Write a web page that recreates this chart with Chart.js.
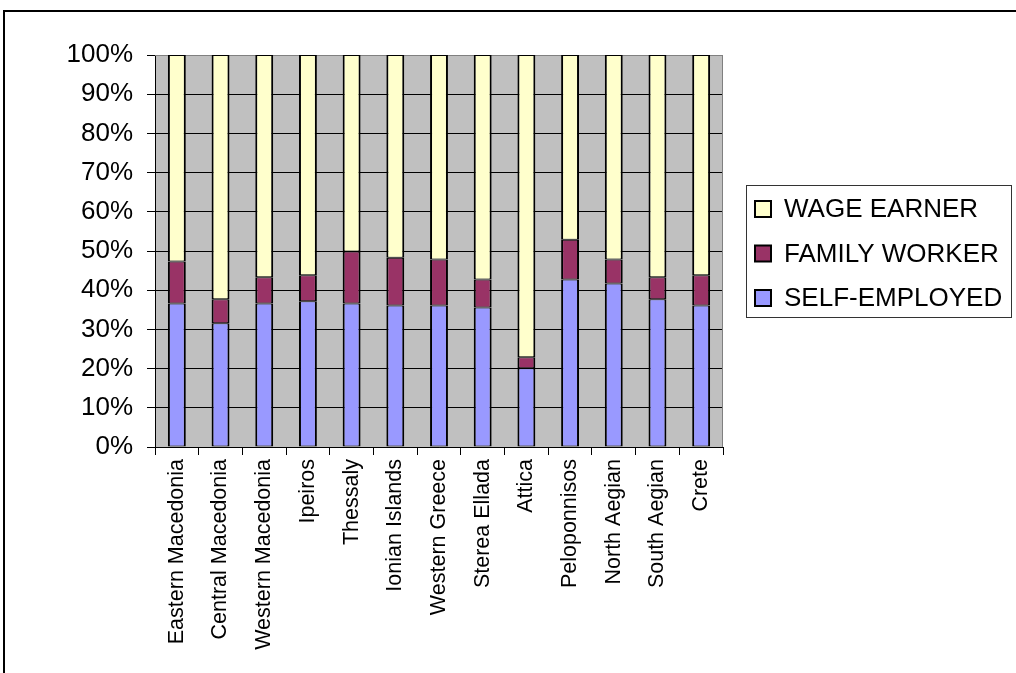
<!DOCTYPE html>
<html lang="en">
<head>
    <meta charset="UTF-8">
    <title>Employment status by region</title>
    <style>
      body { margin: 0; background: #fff; }
    </style>
</head>
<body>
    <canvas id="myChart" width="1016" height="673"></canvas>

    <script src="https://cdn.jsdelivr.net/npm/chart.js"></script>
    <script>
      var regions = ['Eastern Macedonia', 'Central Macedonia', 'Western Macedonia', 'Ipeiros',
                     'Thessaly', 'Ionian Islands', 'Western Greece', 'Sterea Ellada', 'Attica',
                     'Peloponnisos', 'North Aegian', 'South Aegian', 'Crete'];
      var selfEmployed = [36.6, 31.6, 36.6, 37.2, 36.6, 36.1, 36.1, 35.6, 20.1, 42.7, 41.7, 37.7, 36.1];
      var familyWorker = [10.7,  6.1,  6.7,  6.6, 13.3, 12.2, 11.7,  7.1,  2.8, 10.2,  6.1,  5.6,  7.7];
      var wageEarner   = [52.7, 62.3, 56.7, 56.2, 50.1, 51.7, 52.2, 57.3, 77.1, 47.1, 52.2, 56.7, 56.2];
      var seriesNames  = ['SELF-EMPLOYED', 'FAMILY WORKER', 'WAGE EARNER'];
      var seriesColors = ['#9999FF', '#993366', '#FFFFCC'];

      var font = "'Liberation Sans', Arial, sans-serif";

      function makeSet(i, values) {
        return {
          label: seriesNames[i],
          data: values,
          backgroundColor: seriesColors[i],
          borderColor: '#000',
          borderWidth: { left: 2, right: 2, top: 1, bottom: 1 },
          borderSkipped: false,
          categoryPercentage: 1,
          barPercentage: 0.41
        };
      }

      // grey plot area + outer frame
      var backdrop = {
        id: 'backdrop',
        beforeDraw: function (chart) {
          var ctx = chart.ctx, a = chart.chartArea;
          ctx.save();
          ctx.fillStyle = '#fff';
          ctx.fillRect(0, 0, chart.width, chart.height);
          ctx.fillStyle = '#C0C0C0';
          ctx.fillRect(a.left, a.top, a.right - a.left, a.bottom - a.top);
          ctx.strokeStyle = '#000';
          ctx.lineWidth = 2;
          ctx.beginPath();
          ctx.moveTo(4, chart.height + 5);
          ctx.lineTo(4, 11);
          ctx.lineTo(chart.width + 5, 11);
          ctx.stroke();
          ctx.restore();
        },
        beforeDatasetsDraw: function (chart) {
          var ctx = chart.ctx, a = chart.chartArea;
          ctx.save();
          ctx.strokeStyle = '#808080';
          ctx.lineWidth = 1;
          ctx.beginPath();
          ctx.moveTo(a.left, a.top + 0.5);
          ctx.lineTo(a.right - 0.5, a.top + 0.5);
          ctx.lineTo(a.right - 0.5, a.bottom);
          ctx.stroke();
          ctx.restore();
        }
      };

      // boxed legend, top entry first
      var boxLegend = {
        id: 'boxLegend',
        afterDraw: function (chart) {
          var ctx = chart.ctx, a = chart.chartArea;
          var x0 = a.right + 23, y0 = 185, w = 265, h = 132;
          ctx.save();
          ctx.fillStyle = '#fff';
          ctx.fillRect(x0, y0, w, h);
          ctx.strokeStyle = '#333';
          ctx.lineWidth = 1;
          ctx.strokeRect(x0 + 0.5, y0 + 0.5, w, h);
          ctx.font = '26px ' + font;
          ctx.textBaseline = 'middle';
          var sets = chart.data.datasets.slice().reverse();
          sets.forEach(function (ds, i) {
            var cy = y0 + 24 + i * 44.5;
            ctx.fillStyle = ds.backgroundColor;
            ctx.fillRect(x0 + 9, cy - 8, 16, 16);
            ctx.strokeStyle = '#000';
            ctx.lineWidth = 2;
            ctx.strokeRect(x0 + 9, cy - 8, 16, 16);
            ctx.fillStyle = '#000';
            ctx.fillText(ds.label, x0 + 38, cy + 1);
          });
          ctx.restore();
        }
      };

      var ctx = document.getElementById('myChart').getContext('2d');
      var myChart = new Chart(ctx, {
        type: 'bar',
        data: {
          labels: regions,
          datasets: [
            makeSet(0, selfEmployed),
            makeSet(1, familyWorker),
            makeSet(2, wageEarner)
          ]
        },
        options: {
          responsive: false,
          animation: false,
          devicePixelRatio: 1,
          layout: { padding: { top: 55, right: 293, left: 0, bottom: 0 } },
          plugins: {
            legend: { display: false },
            tooltip: { enabled: false }
          },
          scales: {
            x: {
              stacked: true,
              afterFit: function (s) { s.height = 226; },
              border: { color: '#000', width: 1 },
              grid: {
                offset: true,
                drawOnChartArea: false,
                drawTicks: true,
                tickLength: 8,
                color: '#000'
              },
              ticks: {
                autoSkip: false,
                minRotation: 90,
                maxRotation: 90,
                padding: 4,
                color: '#000',
                font: { family: font, size: 21.5 }
              }
            },
            y: {
              stacked: true,
              min: 0,
              max: 100,
              afterFit: function (s) { s.width = 155; },
              border: { color: '#000', width: 1 },
              grid: {
                color: function (c) { return c.tick && c.tick.value === 100 ? '#808080' : '#000'; },
                tickColor: '#000',
                tickLength: 8
              },
              ticks: {
                stepSize: 10,
                padding: 14,
                color: '#000',
                font: { family: font, size: 26 },
                callback: function (v) { return v + '%'; }
              }
            }
          }
        },
        plugins: [backdrop, boxLegend]
      });
    </script>
</body>
</html>
